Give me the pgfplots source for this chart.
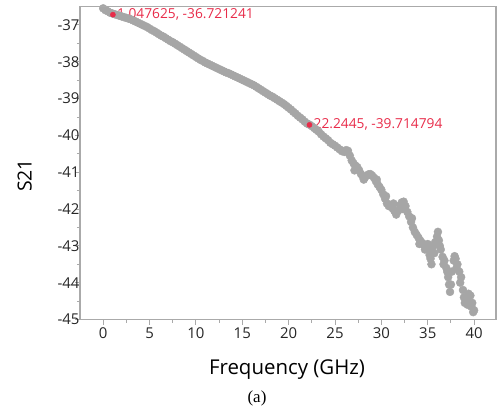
\documentclass[border=0pt]{standalone}
\usepackage{pgfplots}
\pgfplotsset{compat=1.18}
\usepackage{fontspec}
\setmainfont{Open Sans}
\newfontfamily\timesfont{Liberation Serif}
\definecolor{ptgray}{RGB}{166,166,166}
\definecolor{mkred}{RGB}{232,44,74}
\definecolor{framegray}{RGB}{170,170,170}

% S21 trace (GHz, dB)
\pgfplotstableread{
f s
0.00 -36.55
0.25 -36.60
0.50 -36.63
0.75 -36.67
1.00 -36.69
1.25 -36.71
1.50 -36.73
1.75 -36.75
2.00 -36.77
2.25 -36.79
2.50 -36.81
2.75 -36.83
3.00 -36.85
3.25 -36.88
3.50 -36.91
3.75 -36.94
4.00 -36.97
4.25 -37.00
4.50 -37.03
4.75 -37.06
5.00 -37.10
5.25 -37.14
5.50 -37.17
5.75 -37.21
6.00 -37.25
6.25 -37.29
6.50 -37.32
6.75 -37.36
7.00 -37.40
7.25 -37.44
7.50 -37.47
7.75 -37.51
8.00 -37.55
8.25 -37.59
8.50 -37.63
8.75 -37.67
9.00 -37.71
9.25 -37.75
9.50 -37.79
9.75 -37.83
10.00 -37.87
10.25 -37.91
10.50 -37.95
10.75 -37.98
11.00 -38.02
11.25 -38.05
11.50 -38.08
11.75 -38.11
12.00 -38.14
12.25 -38.17
12.50 -38.20
12.75 -38.23
13.00 -38.26
13.25 -38.29
13.50 -38.31
13.75 -38.34
14.00 -38.37
14.25 -38.40
14.50 -38.43
14.75 -38.46
15.00 -38.49
15.25 -38.52
15.50 -38.55
15.75 -38.58
16.00 -38.61
16.25 -38.64
16.50 -38.68
16.75 -38.72
17.00 -38.76
17.25 -38.80
17.50 -38.84
17.75 -38.88
18.00 -38.92
18.25 -38.95
18.50 -38.99
18.75 -39.03
19.00 -39.07
19.25 -39.11
19.50 -39.15
19.75 -39.20
20.00 -39.25
20.25 -39.30
20.50 -39.36
20.75 -39.41
21.00 -39.47
21.25 -39.52
21.50 -39.57
21.75 -39.63
22.00 -39.68
22.25 -39.71
22.50 -39.75
22.75 -39.80
23.00 -39.85
23.25 -39.90
23.50 -39.97
23.75 -40.03
24.00 -40.08
24.25 -40.13
24.50 -40.20
24.75 -40.24
25.00 -40.28
25.25 -40.33
25.50 -40.38
25.75 -40.43
26.00 -40.45
26.20 -40.40
26.40 -40.42
26.60 -40.55
26.80 -40.68
27.00 -40.76
27.20 -40.82
27.40 -40.86
27.60 -40.95
27.80 -41.05
28.00 -41.12
28.20 -41.15
28.40 -41.10
28.60 -41.06
28.80 -41.05
29.00 -41.09
29.20 -41.15
29.40 -41.24
29.60 -41.33
29.80 -41.40
30.00 -41.48
30.20 -41.60
30.40 -41.72
30.60 -41.85
30.80 -41.92
31.00 -41.90
31.20 -41.98
31.40 -42.05
31.60 -42.15
31.80 -42.05
32.00 -41.90
32.20 -41.82
32.40 -41.80
32.60 -41.92
32.80 -42.08
33.00 -42.20
33.20 -42.35
33.40 -42.50
33.60 -42.62
33.80 -42.70
34.00 -42.78
34.20 -42.86
34.40 -42.92
34.60 -42.98
34.80 -43.02
35.00 -43.10
35.20 -43.25
35.40 -43.50
35.50 -43.15
35.60 -43.00
35.80 -42.90
36.00 -42.75
36.10 -42.62
36.20 -42.85
36.40 -43.10
36.60 -43.30
36.80 -43.40
37.00 -43.60
37.20 -43.85
37.40 -44.25
37.50 -44.05
37.60 -43.70
37.80 -43.40
37.90 -43.28
38.00 -43.35
38.20 -43.50
38.40 -43.70
38.60 -43.85
38.80 -44.20
39.00 -44.55
39.20 -44.45
39.40 -44.30
39.60 -44.35
39.80 -44.55
40.00 -44.75
27.10 -40.95
28.10 -41.20
29.50 -41.20
30.50 -41.65
31.30 -41.85
32.30 -42.00
33.30 -42.25
34.10 -42.95
34.70 -43.10
35.30 -43.35
35.70 -43.20
36.30 -43.00
36.70 -43.50
37.10 -43.70
37.30 -44.05
38.10 -43.60
38.50 -44.00
38.90 -44.40
39.30 -44.60
39.70 -44.65
39.90 -44.80
35.00 -42.95
36.00 -42.95
}\trace

\begin{document}
\begin{tikzpicture}
\begin{axis}[
    name=main,
    scale only axis,
    width=416bp, height=313bp,
    xmin=-2.5, xmax=42.36,
    ymin=-45, ymax=-36.5,
    xtick={0,5,...,40},
    xticklabels={0,5,10,15,20,25,30,35,40},
    ytick={-45,-44,...,-37},
    yticklabels={-45,-44,-43,-42,-41,-40,-39,-38,-37},
    minor x tick num=1, minor y tick num=1,
    xtick pos=left, ytick pos=left,
    tick align=outside,
    major tick length=5bp, minor tick length=3bp,
    axis line style={draw=framegray, line width=1.6bp},
    every tick/.style={draw=framegray, line width=0.9bp},
    tick label style={font=\fontsize{15}{17}\selectfont, text=black!85},
    yticklabel style={xshift=8bp},
    xlabel={Frequency (GHz)},
    ylabel={S21},
    every axis x label/.style={at={(axis description cs:0.4976,-0.16)},
        anchor=center, font=\fontsize{20.5}{23}\selectfont},
    every axis y label/.style={at={(axis description cs:-0.133,0.46)},
        rotate=90, anchor=center, font=\fontsize{19.5}{22}\selectfont},
]
\addplot[ptgray, only marks, mark=*, mark size=4bp,
    mark options={draw=ptgray, fill=ptgray}] table[x=f, y=s] {\trace};

\addplot[mkred, only marks, mark=*, mark size=2.6bp,
    mark options={draw=mkred, fill=mkred}]
    coordinates {(1.047625,-36.721241) (22.2445,-39.714794)};

\node[anchor=west, inner sep=0pt, xshift=4bp, text=mkred,
    font=\fontsize{13.8}{16}\selectfont]
    at (axis cs:1.047625,-36.721241) {1.047625, -36.721241};
\node[anchor=west, inner sep=0pt, xshift=4bp, text=mkred,
    font=\fontsize{13.8}{16}\selectfont]
    at (axis cs:22.2445,-39.714794) {22.2445, -39.714794};
\end{axis}

% light grey box round the plot area
\draw[framegray, line width=1.6bp] (main.south west) rectangle (main.north east);

\node[font=\timesfont\fontsize{17}{20}\selectfont]
    at ([shift={(177bp,-79bp)}]main.south west) {(a)};

\pgfresetboundingbox
\path[use as bounding box] ([shift={(-80bp,-98bp)}]main.south west)
    rectangle ([shift={(3bp,6.5bp)}]main.north east);
\end{tikzpicture}
\end{document}
